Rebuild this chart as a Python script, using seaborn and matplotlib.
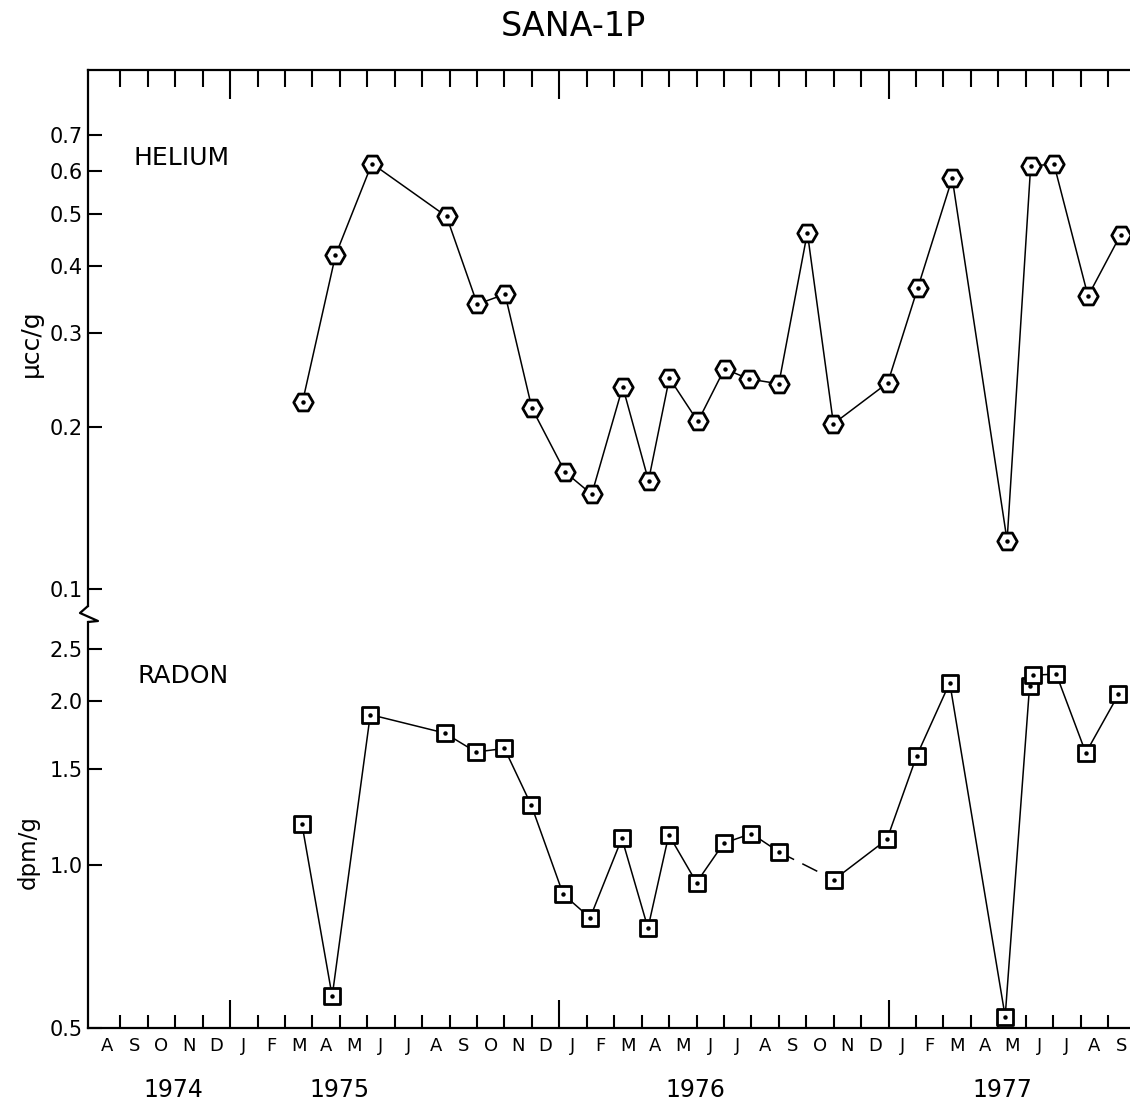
import numpy as np
import pandas as pd
import matplotlib
matplotlib.use("Agg")
import matplotlib.pyplot as plt
from matplotlib.lines import Line2D
from matplotlib.ticker import NullLocator, FixedLocator
import seaborn as sns

# ---------------- data (x = months since 1 Aug 1974) ----------------
he_month = [7.64, 8.84, 10.17, 12.89, 14.01, 15.02, 16.00, 17.21, 18.18, 19.31,
            20.25, 21.01, 22.05, 23.02, 23.91, 25.00, 26.04, 26.99, 28.97, 30.06,
            31.32, 33.32, 34.18, 35.03, 36.27, 37.46]
he_value = [0.223, 0.418, 0.620, 0.494, 0.339, 0.354, 0.217, 0.165, 0.150, 0.238,
            0.159, 0.247, 0.205, 0.257, 0.246, 0.241, 0.461, 0.203, 0.242, 0.363,
            0.582, 0.123, 0.614, 0.618, 0.351, 0.457]

rn_month = [7.62, 8.72, 10.11, 12.82, 13.96, 15.00, 15.98, 17.14, 18.12, 19.28,
            20.23, 20.99, 22.00, 22.99, 24.00, 25.01, 27.01, 28.94, 30.03, 31.23,
            33.25, 34.14, 34.26, 35.11, 36.19, 37.38]
rn_value = [1.186, 0.572, 1.890, 1.748, 1.613, 1.637, 1.286, 0.882, 0.798, 1.118,
            0.764, 1.135, 0.927, 1.095, 1.141, 1.055, 0.938, 1.113, 1.589, 2.164,
            0.525, 2.134, 2.233, 2.246, 1.607, 2.059]
# segment of the radon curve; the link between segments is drawn dashed
rn_segment = [0] * 16 + [1] * 10

month_labels = list("ASOND" + "JFMAMJJASOND" * 2 + "JFMAMJJAS")
year_labels = ["1974", "1975", "1976", "1977"]
year_ticks = [5, 17, 29]          # 1 Jan 1975, 1976, 1977
he_ticks = [0.1, 0.2, 0.3, 0.4, 0.5, 0.6, 0.7]
he_ticklabels = ["0.1", "0.2", "0.3", "0.4", "0.5", "0.6", "0.7"]
rn_ticks = [0.5, 1.0, 1.5, 2.0, 2.5]
rn_ticklabels = ["0.5", "1.0", "1.5", "2.0", "2.5"]

he_df = pd.DataFrame({"month": he_month, "value": he_value})
rn_df = pd.DataFrame({"month": rn_month, "value": rn_value, "seg": rn_segment})

# ---------------- style ----------------
sns.set_theme(style="white")
plt.rcParams["font.family"] = ["DejaVu Sans"]
plt.rcParams["text.color"] = "black"
plt.rcParams["axes.edgecolor"] = "black"
plt.rcParams["xtick.color"] = "black"
plt.rcParams["ytick.color"] = "black"

W, H = 1130, 1107
fig = plt.figure(figsize=(W / 100, H / 100), dpi=100)


def box(left, top, right, bottom):
    return [left / W, 1 - bottom / H, (right - left) / W, (bottom - top) / H]


ax_he = fig.add_axes(box(88, 70, 1130, 606))
ax_rn = fig.add_axes(box(88, 622, 1130, 1028))

LW = 1.1
for ax in (ax_he, ax_rn):
    ax.set_facecolor("white")
    ax.set_yscale("log")
    ax.set_xlim(-0.18, 37.8)

# helium
sns.lineplot(data=he_df, x="month", y="value", ax=ax_he, color="black",
             lw=LW, estimator=None, sort=False, zorder=2)
sns.scatterplot(data=he_df, x="month", y="value", ax=ax_he, marker="H", s=14 ** 2,
                color="white", edgecolor="black", linewidth=2.0, zorder=3)
sns.scatterplot(data=he_df, x="month", y="value", ax=ax_he, marker="o", s=3.2 ** 2,
                color="black", linewidth=0, zorder=4)

# radon
sns.lineplot(data=rn_df, x="month", y="value", units="seg", ax=ax_rn, color="black",
             lw=LW, estimator=None, sort=False, zorder=2)
link = rn_df.iloc[[rn_segment.index(1) - 1, rn_segment.index(1)]]
sns.lineplot(data=link, x="month", y="value", ax=ax_rn, color="black", lw=LW,
             estimator=None, sort=False, linestyle=(0, (11, 6)), zorder=2)
sns.scatterplot(data=rn_df, x="month", y="value", ax=ax_rn, marker="s", s=11 ** 2,
                color="white", edgecolor="black", linewidth=2.0, zorder=3)
sns.scatterplot(data=rn_df, x="month", y="value", ax=ax_rn, marker="o", s=3.2 ** 2,
                color="black", linewidth=0, zorder=4)

ax_he.set_ylim(0.0929, 0.926)
ax_rn.set_ylim(0.5, 2.80)

minor_months = [m for m in range(1, 38) if m not in year_ticks]
for ax in (ax_he, ax_rn):
    ax.set_xlabel("")
    ax.set_ylabel("")
    ax.xaxis.set_major_locator(FixedLocator(year_ticks))
    ax.xaxis.set_minor_locator(FixedLocator(minor_months))
    ax.yaxis.set_minor_locator(NullLocator())
    ax.tick_params(axis="y", which="major", direction="in", length=10, width=1.5,
                   labelsize=15, pad=4, left=True, right=False)
    ax.spines["right"].set_visible(False)
    for s in ax.spines.values():
        s.set_linewidth(1.6)

ax_he.set_yticks(he_ticks)
ax_he.set_yticklabels(he_ticklabels)
ax_rn.set_yticks(rn_ticks)
ax_rn.set_yticklabels(rn_ticklabels)
ax_he.yaxis.set_minor_locator(NullLocator())
ax_rn.yaxis.set_minor_locator(NullLocator())

ax_he.spines["bottom"].set_visible(False)
ax_rn.spines["top"].set_visible(False)

ax_he.tick_params(axis="x", which="major", direction="in", length=21, width=1.5,
                  top=True, bottom=False, labeltop=False, labelbottom=False)
ax_he.tick_params(axis="x", which="minor", direction="in", length=12, width=1.5,
                  top=True, bottom=False, labeltop=False, labelbottom=False)
ax_rn.tick_params(axis="x", which="major", direction="in", length=20, width=1.5,
                  top=False, bottom=True, labelbottom=False)
ax_rn.tick_params(axis="x", which="minor", direction="in", length=9.5, width=1.5,
                  top=False, bottom=True, labelbottom=False)

# month letters centred in each month, years below
for i, lab in enumerate(month_labels):
    ax_rn.annotate(lab, xy=(i + 0.5, 0), xycoords=("data", "axes fraction"),
                   xytext=(0, -18), textcoords="offset pixels",
                   ha="center", va="center", fontsize=13)
year_pos = [2.92, 9.0, 21.95, 33.15]
for lab, xp in zip(year_labels, year_pos):
    ax_rn.annotate(lab, xy=(xp, 0), xycoords=("data", "axes fraction"),
                   xytext=(0, -62), textcoords="offset pixels",
                   ha="center", va="center", fontsize=17)

# axis break mark on the left spine
zx = np.array([88, 80, 98, 88]) / W
zy = 1 - np.array([606, 613, 621, 622]) / H
fig.add_artist(Line2D(zx, zy, transform=fig.transFigure, color="black", lw=1.6))

# texts
fig.text(573 / W, 1 - 27 / H, "SANA-1P", ha="center", va="center", fontsize=24)
fig.text(133 / W, 1 - 158 / H, "HELIUM", ha="left", va="center", fontsize=18)
fig.text(138 / W, 1 - 676 / H, "RADON", ha="left", va="center", fontsize=18)
fig.text(31 / W, 1 - 343 / H, "μcc/g", ha="center", va="center", rotation=90, fontsize=18)
fig.text(28 / W, 1 - 852 / H, "dpm/g", ha="center", va="center", rotation=90, fontsize=16.5)

fig.savefig("out.png", dpi=100, facecolor="white")
